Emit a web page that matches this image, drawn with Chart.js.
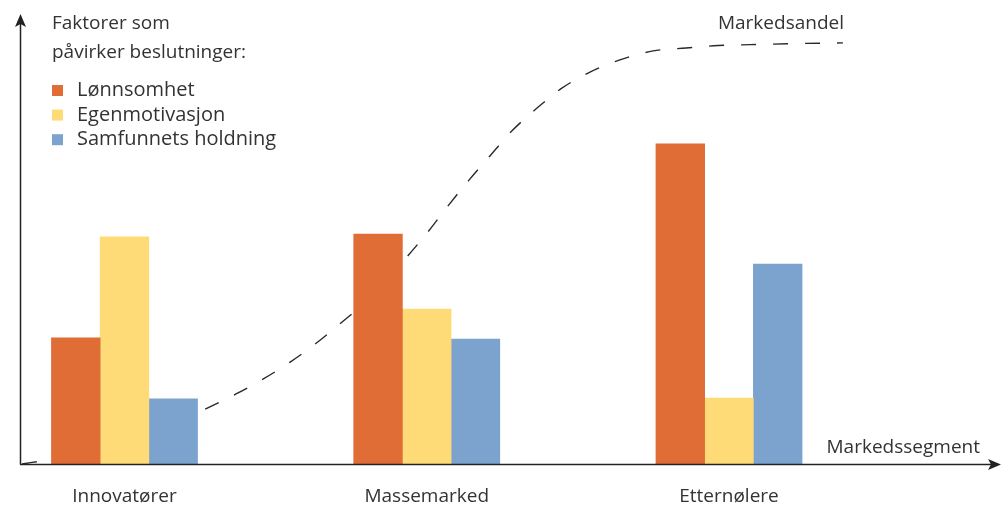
<!DOCTYPE html>
<html><head><meta charset="utf-8">
<script src="https://cdn.jsdelivr.net/npm/chart.js@4"></script>
<style>html,body{margin:0;padding:0;background:#fff}#wrap{width:1001px;height:506px;position:relative}</style>
</head><body><div id="wrap"><canvas id="c"></canvas></div>
<script>
const categories = ['Innovatører', 'Massemarked', 'Etternølere'];
const seriesNames = ['Lønnsomhet', 'Egenmotivasjon', 'Samfunnets holdning'];
const lonnsomhet = [28.1, 51.2, 71.3];
const egenmotivasjon = [50.6, 34.5, 14.7];
const samfunnetsHoldning = [14.5, 27.8, 44.5];
// market-share curve, x in market-segment (category index) units
const markedsandelX = [-0.339, -0.240, -0.081, 0.084, 0.240, 0.369, 0.458, 0.548, 0.634, 0.716, 0.812, 0.908, 1.004, 1.067, 1.137, 1.209, 1.282, 1.362, 1.447, 1.540, 1.639, 1.749, 1.858, 1.964, 2.070, 2.235, 2.377];
const markedsandelY = [0, 1.1, 3.6, 7.1, 11.4, 15.6, 18.9, 22.7, 26.9, 31.4, 37.0, 44.1, 51.7, 57.2, 63.0, 68.6, 74.2, 79.1, 83.7, 87.3, 90.0, 92.0, 92.65, 93.2, 93.4, 93.65, 93.8];
const legendTitle = ['Faktorer som', 'påvirker beslutninger:'];
const xAxisTitle = 'Markedssegment';
const curveTitle = 'Markedsandel';

const colors = ['#E06D35', '#FFDB78', '#7BA3CE'];
const FONT = '19px "Open Sans", sans-serif';
const LEGEND_FONT = '20px "Open Sans", sans-serif';
const TEXT = '#333333';

const overlay = {
  id: 'overlay',
  afterDraw(chart) {
    const ctx = chart.ctx;
    const a = chart.chartArea;
    const xs = chart.scales.x;
    ctx.save();
    ctx.strokeStyle = '#222';
    ctx.fillStyle = '#222';
    ctx.lineWidth = 1.5;
    ctx.beginPath();
    ctx.moveTo(a.left + 0.5, a.bottom + 0.5);
    ctx.lineTo(a.left + 0.5, a.top + 8);
    ctx.moveTo(a.left, a.bottom + 0.5);
    ctx.lineTo(a.right - 8, a.bottom + 0.5);
    ctx.stroke();
    ctx.beginPath();
    ctx.moveTo(a.left + 0.5, a.top - 1);
    ctx.lineTo(a.left + 6, a.top + 12);
    ctx.lineTo(a.left + 0.5, a.top + 9);
    ctx.lineTo(a.left - 5, a.top + 12);
    ctx.closePath();
    ctx.fill();
    ctx.beginPath();
    ctx.moveTo(a.right + 1, a.bottom + 0.5);
    ctx.lineTo(a.right - 12, a.bottom - 5);
    ctx.lineTo(a.right - 9, a.bottom + 0.5);
    ctx.lineTo(a.right - 12, a.bottom + 6);
    ctx.closePath();
    ctx.fill();

    ctx.font = FONT;
    ctx.fillStyle = TEXT;
    ctx.textBaseline = 'alphabetic';
    ctx.textAlign = 'center';
    categories.forEach((c, i) => ctx.fillText(c, xs.getPixelForValue(i), 502));
    ctx.textAlign = 'right';
    ctx.fillText(xAxisTitle, 980, 453);
    ctx.fillText(curveTitle, 844, 29);
    ctx.textAlign = 'left';
    ctx.fillText(legendTitle[0], 52, 29);
    ctx.fillText(legendTitle[1], 52, 58);
    ctx.font = LEGEND_FONT;
    const bars = chart.data.datasets.filter(d => d.type === 'bar');
    bars.forEach((d, i) => {
      const base = 96 + i * 24.6;
      ctx.fillStyle = d.backgroundColor;
      ctx.fillRect(52, base - 11, 11, 11);
      ctx.fillStyle = TEXT;
      ctx.fillText(d.label, 77, base);
    });
    ctx.restore();
  }
};

const seriesValues = [lonnsomhet, egenmotivasjon, samfunnetsHoldning];
const barSets = seriesValues.map((vals, s) => ({
  type: 'bar',
  label: seriesNames[s],
  data: vals.map((v, i) => ({ x: i, y: v })),
  backgroundColor: colors[s],
  borderWidth: 0,
  barThickness: 48.7,
  order: 1
}));

new Chart(document.getElementById('c'), {
  data: {
    datasets: [
      ...barSets,
      {
        type: 'line',
        label: curveTitle,
        data: markedsandelX.map((x, i) => ({ x: x, y: markedsandelY[i] })),
        borderColor: '#2a2a2a',
        borderWidth: 1.4,
        borderDash: [15, 17],
        pointRadius: 0,
        fill: false,
        cubicInterpolationMode: 'monotone',
        order: 10
      }
    ]
  },
  options: {
    responsive: true,
    maintainAspectRatio: false,
    animation: false,
    layout: { padding: { left: 20, top: 15, right: 1, bottom: 42 } },
    plugins: { legend: { display: false }, tooltip: { enabled: false } },
    scales: {
      x: { type: 'linear', display: false, offset: false, min: -0.34574, max: 2.89661 },
      y: { type: 'linear', display: false, min: 0, max: 100 }
    }
  },
  plugins: [overlay]
});
</script>
</body></html>
